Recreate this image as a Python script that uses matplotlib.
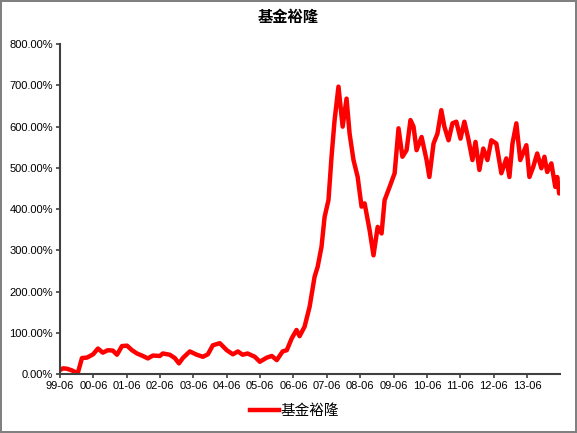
import numpy as np
import matplotlib
matplotlib.use('Agg')
import matplotlib.pyplot as plt
from matplotlib.ticker import FuncFormatter

plt.rcParams['font.family'] = ['Liberation Sans', 'Noto Sans CJK SC']

# months since 1999-06, fund cumulative return (%)
months = [0, 1.1, 2.5, 4.3, 5.4, 6.5, 7.9, 9.7, 11.9, 13.65, 15.4, 17.2, 19.0, 20.5,
          22.3, 24.1, 25.9, 27.7, 29.8, 31.6, 33.4, 35.9, 37.0, 39.5, 41.3, 42.8,
          44.2, 46.7, 49.2, 51.4, 53.2, 55.0, 57.5, 60.0, 62.2, 64.0, 65.7, 67.5,
          70.1, 71.9, 74.4, 76.2, 78.0, 80.1, 81.6, 83.4, 85.1, 86.2, 88.0, 89.8,
          91.6, 92.7, 94.1, 95.2, 96.6, 97.7, 98.8, 100.2, 101.7, 103.1, 104.2,
          105.6, 107.1, 108.5, 109.6, 111.4, 112.8, 114.3, 115.7, 116.8, 118.6,
          120.4, 121.8, 123.2, 124.7, 126.1, 127.2, 128.3, 130.1, 131.9, 132.9,
          134.4, 135.8, 137.2, 138.3, 139.8, 141.2, 142.6, 144.1, 145.5, 146.9,
          148.4, 149.5, 150.9, 152.3, 153.8, 155.2, 157.0, 158.8, 160.6, 161.7,
          162.8, 164.2, 165.6, 167.8, 168.9, 170.3, 171.7, 173.2, 174.3, 175.3,
          176.8, 178.2, 178.9, 179.6, 180.0]
ret_pct = [10, 14, 13, 9, 5, 5, 39, 40, 48, 62, 52, 58, 57, 47,
           68, 69, 58, 50, 44, 38, 45, 44, 50, 47, 39, 26,
           39, 55, 47, 42, 48, 70, 75, 58, 48, 55, 47, 50,
           42, 30, 40, 44, 34, 55, 58, 87, 107, 92, 115, 163,
           236, 260, 309, 381, 422, 527, 616, 697, 600, 668, 583,
           519, 478, 406, 414, 349, 288, 357, 341, 422, 454,
           487, 596, 527, 543, 616, 600, 543, 575, 519, 478,
           559, 583, 640, 600, 567, 608, 612, 571, 612, 571,
           519, 563, 495, 547, 519, 567, 559, 487, 523, 478,
           559, 608, 519, 555, 478, 503, 535, 499, 527, 490,
           511, 454, 478, 438, 456]
tick_labels = ['99-06', '00-06', '01-06', '02-06', '03-06', '04-06', '05-06', '06-06',
               '07-06', '08-06', '09-06', '10-06', '11-06', '12-06', '13-06']
series_name = '基金裕隆'

fig = plt.figure(figsize=(5.77, 4.33), dpi=100)
fig.patch.set_edgecolor('#808080')
fig.patch.set_linewidth(1.5)
ax = fig.add_axes([0.104, 0.136, 0.867, 0.762])

ax.plot(months, ret_pct, color='#ff0000', lw=3.2, label=series_name, solid_joinstyle='round')

ax.set_ylim(0, 800)
ax.set_yticks(np.arange(0, 801, 100))
ax.yaxis.set_major_formatter(FuncFormatter(lambda v, p: '%.2f%%' % v))
ax.set_xlim(0, 180)
ax.set_xticks(np.arange(len(tick_labels)) * 12)
ax.set_xticklabels(tick_labels)

for s in ['top', 'right']:
    ax.spines[s].set_visible(False)
for s in ['left', 'bottom']:
    ax.spines[s].set_color('#404040')
    ax.spines[s].set_linewidth(1.5)
ax.tick_params(axis='both', direction='out', length=3, width=1.2, color='#404040',
               labelsize=8, pad=2)

fig.suptitle(series_name, y=0.975, fontsize=11, fontweight='bold')
fig.legend(loc='center', bbox_to_anchor=(0.51, 0.051), frameon=False, fontsize=10.5,
           handlelength=2.0, handletextpad=0.1)

fig.savefig('out.png', dpi=100)
